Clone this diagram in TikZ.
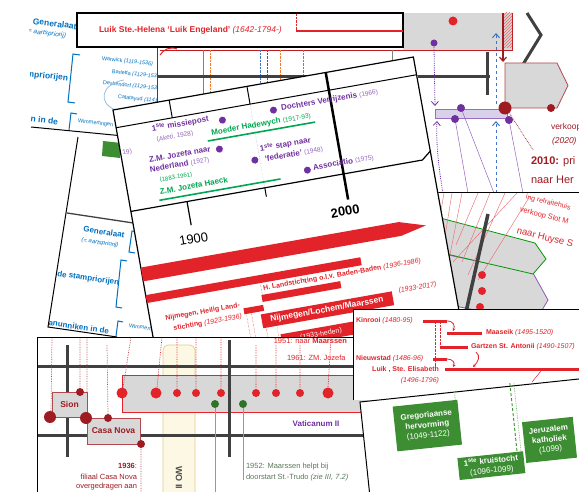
\documentclass[tikz,border=0pt]{standalone}
\usepackage{fontspec}
\setmainfont{Liberation Sans}
\usetikzlibrary{arrows.meta,patterns}
\definecolor{cred}{RGB}{226,35,42}
\definecolor{cdred}{RGB}{158,27,34}
\definecolor{cpur}{RGB}{112,48,160}
\definecolor{cpurl}{RGB}{150,100,190}
\definecolor{cpurfill}{RGB}{217,208,234}
\definecolor{cgrn}{RGB}{0,166,81}
\definecolor{cgbox}{RGB}{61,142,51}
\definecolor{cblue}{RGB}{0,112,192}
\definecolor{cbluel}{RGB}{68,114,196}
\definecolor{cbluec}{RGB}{150,190,230}
\definecolor{cgray}{RGB}{216,216,216}
\definecolor{cbar}{RGB}{64,64,64}
\definecolor{ccream}{RGB}{253,248,228}
\definecolor{ctan}{RGB}{222,205,140}
\definecolor{cgtext}{RGB}{90,120,90}
\definecolor{corange}{RGB}{237,125,49}
\newcommand{\myfs}[1]{\fontsize{#1}{#1}\selectfont}
\newcommand{\myfsb}[2]{\fontsize{#1}{#2}\selectfont}
\begin{document}
\begin{tikzpicture}[x=1pt,y=-1pt,
  every node/.style={inner sep=0pt,outer sep=0pt},
  barline/.style={cbar,line width=3pt},
  sarrow/.style={-{Straight Barb[length=4pt,width=7pt]}},
  bluetxt/.style={text=cblue,font=\myfs{8}\bfseries},
  bluesm/.style={text=cblue,font=\myfs{5.5}},
  purtxt/.style={anchor=west,text=cpur,font=\myfs{8}\bfseries},
  grntxt/.style={anchor=west,text=cgrn,font=\myfs{8}\bfseries},
  redtxt/.style={text=cred,font=\myfs{7}\bfseries},
  kintxt/.style={text=cred,font=\myfs{7}\bfseries},
  gboxtxt/.style={text=white,font=\myfsb{8}{10}\bfseries,align=center},
  pdot/.style={fill=cpur},
  rdot/.style={fill=cred},
  ddot/.style={fill=cdred},
  gdot/.style={fill=cgbox!80!black}]
\useasboundingbox (0,0) rectangle (579,492);
\clip (0,0) rectangle (579,492);

% ---------- card 2 (left middle, blue) ----------
\begin{scope}
\clip (78,137) -- (170,137) -- (170,345) -- (117,337) -- (48,327) -- cycle;
\fill[cgbox] (103,141) -- (121,143) -- (120,158) -- (102,156) -- cycle;
\draw[cbar,line width=1.3pt] (67,213) -- (140,224);
\node[bluetxt,rotate=-8] (c2gen) at (104,232) {Generalaat};
\node[text=cblue,font=\myfs{6}\itshape,rotate=-8] (c2aart) at (100,243) {(= aartspriorij)};
\draw[cblue,line width=1pt] (138,232) -- (132,231) -- (129,252) -- (135,253);
\node[bluetxt,anchor=east,rotate=-8] (c2stam) at (119,283) {de stampriorijen};
\draw[cblue,line width=1pt] (127,261) -- (121,260) -- (116,307) -- (122,308);
\node[bluetxt,anchor=east,rotate=-8] (c2kan) at (109,331) {kanunniken in de};
\draw[cblue,line width=1pt] (123,322) -- (118,321) -- (116,336);
\node[bluesm,anchor=west,rotate=-8] (c2wim) at (129,326) {Wimmertingen};
\end{scope}
\draw[line width=1pt] (78,137) -- (48,327) -- (117,337);

% ---------- card 1 (top left, blue) ----------
\begin{scope}
\clip (28,0) -- (200,0) -- (200,143.5) -- (31,127) -- cycle;
\node[bluetxt,anchor=west,font=\myfs{8.5}\bfseries,rotate=-7] (c1gen) at (33,21) {Generalaat};
\node[text=cblue,font=\myfs{6.5}\itshape,anchor=west,rotate=-7] (c1aart) at (26,31) {(= aartspriorij)};
\draw[cblue,line width=1pt] (80,55) -- (73,54) -- (68,102) -- (75,103);
\node[bluetxt,anchor=east,font=\myfs{8.5}\bfseries,rotate=-7] (c1stam) at (68,79) {stampriorijen};
\node[bluesm,anchor=west,rotate=-6] (w1) at (102,59) {Warwick {\itshape (1119-1536)}};
\node[bluesm,anchor=west,rotate=-6] (w2) at (112,72) {Barletta {\itshape (1129-1536)}};
\node[bluesm,anchor=west,rotate=-6] (w3) at (103,83) {Deskendorf {\itshape (1129-1536)}};
\node[bluesm,anchor=west,rotate=-6] (w4) at (118,97) {Calatayud {\itshape (1141-1536)}};
\draw[cbluec,line width=0.8pt] (124,80) .. controls (100,84) and (98,104) .. (116,110);
\draw[cblue,line width=1pt] (77,114) -- (71,113) -- (69,130);
\node[bluetxt,anchor=east,font=\myfs{8.5}\bfseries,rotate=-7] (c1kan) at (58,122) {kanunniken in de};
\node[bluesm,anchor=west,rotate=-7] (c1wim) at (78,121) {Wimmertingen};
\end{scope}
\draw[line width=1pt] (31,127) -- (140,137.6);

% ---------- card H (lower right, tilted) ----------
\begin{scope}
\clip (438,193) rectangle (579,309);
\fill[white] (438,193) rectangle (579,309);
\filldraw[fill=cgray,draw=cpur!80,line width=0.8pt] (425,250) -- (533,273) -- (548,300) -- (535,322) -- (425,300) -- cycle;
\filldraw[fill=cgray,draw=green!60!black,line width=0.8pt] (425,214) -- (535,243) -- (546,259) -- (533,274) -- (425,249) -- cycle;
\draw[cred!70,line width=0.4pt] (444,193) -- (436,240) (452,193) -- (442,255) (462,193) -- (448,265)
  (478,193) -- (456,245) (490,193) -- (462,262) (505,193) -- (468,275) (517,193) -- (453,262) (530,196) -- (478,280);
\draw[barline,line width=3.5pt] (488,214) -- (466,312);
\fill[rdot] (482,275) circle (4) (482,291) circle (4) (480,307) circle (4);
\node[anchor=west,rotate=-14,text=cred,font=\myfs{7}] (h1) at (526,197) {ing retraitehuis};
\node[anchor=west,rotate=-14,text=cred,font=\myfs{7.5}] (h2) at (520,210) {verkoop Slot M};
\node[anchor=west,rotate=-14,text=cred,font=\myfs{9.5}] (h3) at (517,231) {naar Huyse S};
\end{scope}

% ---------- top right panel ----------
\fill[white] (157,47) rectangle (579,193);
\fill[cgray] (403,13) rectangle (512,50);
\fill[pattern=north east lines,pattern color=cred!70] (504,13) rectangle (512,48);
\draw[cred!85!black,line width=0.6pt] (160,50) -- (512,50) -- (512,13);
\fill[rdot] (453,21) circle (4.5);
\draw[gray,line width=0.8pt] (203,50) -- (203,110);
\draw[corange,densely dotted] (210,50) -- (210,110);
\draw[cbluel,densely dotted] (260,50) -- (260,110);
\draw[green!60!black,densely dotted] (267,50) -- (267,110);
\draw[corange,densely dotted] (280,50) -- (280,110);
\draw[gray,densely dotted] (303,50) -- (303,110);
\draw[gray,line width=0.8pt] (392,50) -- (392,80);
\draw[cbar,line width=0.8pt] (157,47) -- (157,193);
\draw[barline] (157,77) -- (490,77);
\draw[barline] (487,52) -- (487,95);
\draw[barline] (527,13) -- (541,35) -- (522,66);
\draw[cdred,line width=1.2pt,sarrow] (503,13) -- (503,62);
\filldraw[fill=cgray,draw=cdred!80,line width=0.8pt] (505,63) -- (557,63) -- (568,85.5) -- (557,108) -- (505,108) -- cycle;
\node[fill=cpurfill,draw=cpur!70,line width=0.6pt,minimum width=72pt,minimum height=9pt] (pbox) at (471,113.5) {};
\draw[cpurl,line width=0.5pt] (455,119) -- (468,193) (461,108) -- (494,193) (509,120) -- (523,193);
\fill[pdot] (434,43) circle (3.5);
\draw[cpur,densely dotted,line width=0.8pt,sarrow] (434,47) -- (435,106);
\draw[cpur,densely dotted,line width=0.8pt,sarrow] (443,193) .. controls (438,165) and (436,140) .. (437,121);
\draw[cbluel,dashed,line width=1pt,sarrow] (496,104) -- (496,33);
\draw[cbluel,dashed,line width=1pt,sarrow] (496,193) -- (496,121);
\draw[cdred,densely dotted,line width=0.7pt] (508,111) -- (533,150);
\fill[pdot] (461,108) circle (4) (455,119) circle (4) (509,120) circle (4);
\fill[ddot] (505,108) circle (6.5) (551,108) circle (4);
\node[anchor=west,text=cdred,font=\myfs{8.5}] (verk) at (551,127) {verkoop};
\node[anchor=west,text=cdred,font=\myfs{8.5}\itshape] (verk2) at (552,141) {(2020)};
\node[anchor=west,text=cdred,font=\myfs{11}] (t2010) at (531,162) {\textbf{2010:} pri};
\node[anchor=west,text=cdred,font=\myfs{11}] (t2010b) at (531,180) {naar Her};
\draw[line width=1pt] (157,193) -- (579,193);
% Luik box
\fill[white] (77,13) rectangle (403,47);
\draw[line width=1.2pt] (77,13) rectangle (403,47);
\draw[cred,line width=1.8pt] (296,31) -- (403,31);
\draw[cred,densely dotted] (296,14) -- (296,31);
\node[anchor=west,text=cred,font=\myfs{8.5}\bfseries] (luik) at (99,30) {Luik Ste.-Helena ‘Luik Engeland’ {\mdseries\itshape (1642-1794-)}};
\draw[cred,line width=1pt] (177,49) .. controls (170,46) and (163,50) .. (160,55);

% ---------- central card ----------
\begin{scope}[shift={(113,110)},rotate=10,every node/.append style={transform shape}]
\fill[white] (0,0) rectangle (306,295);
\draw[line width=1.2pt] (0,295) -- (0,0) -- (305,0) -- (306,295);
\draw[line width=1pt] (0,18) -- (305,18);
\draw[line width=1pt] (57,0) -- (57,18) (136,0) -- (136,18);
\draw[gray!60,densely dotted] (136,18) -- (136,103);
\draw[line width=2.5pt] (216,0) -- (216,129);
\draw[line width=1.2pt] (0,103) -- (296,103) -- (306,95);
\draw[line width=1.2pt] (57,103) -- (57,127);
\draw[line width=1pt] (136,103) -- (136,112);
\node[font=\myfs{13}] (y1900) at (57,141) {1900};
\node[font=\myfs{13}\bfseries] (y2000) at (211,140) {2000};
% purple / green
\node[anchor=west,text=cpurl,font=\myfs{6.5}] (p19) at (2,44) {19)};
\node[purtxt] (miss) at (35,25.5) {1\textsuperscript{ste} missiepost};
\node[anchor=west,text=cpurl,font=\myfs{6.5}] (aketi) at (38,37) {(Aketi, 1928)};
\fill[pdot] (106,29) circle (3.5);
\node[grntxt] (moeder) at (93,40) {Moeder Hadewych {\mdseries\myfs{6.5}(1917-93)}};
\draw[cgrn,line width=1.6pt] (88,47) -- (197,47);
\fill[pdot] (158,28) circle (3.5);
\node[purtxt] (doch) at (166,28) {Dochters Verrijzenis {\mdseries\myfs{6.5}\color{cpurl}(1966)}};
\node[purtxt] (zm1) at (27,55) {Z.M. Jozefa naar};
\node[purtxt] (zm2) at (26,65.5) {Nederland {\mdseries\myfs{6.5}\color{cpurl}(1927)}};
\fill[pdot] (98,57) circle (3.5);
\node[anchor=west,text=cgrn,font=\myfs{6}] (hy) at (34,77.5) {(1883-1961)};
\node[grntxt] (haeck) at (32,88.5) {Z.M. Jozefa Haeck};
\draw[cgrn,line width=1.6pt] (30,97) -- (153,97);
\fill[pdot] (131,74) circle (3.5);
\node[purtxt] (stap) at (138,64) {1\textsuperscript{ste} stap naar};
\node[purtxt] (fed) at (141,75) {‘federatie’ {\mdseries\myfs{6.5}\color{cpurl}(1948)}};
\fill[pdot] (181,93) circle (3.5);
\node[purtxt] (assoc) at (187,92) {Associatio {\mdseries\myfs{6.5}\color{cpurl}(1975)}};
% red bars
\fill[cred] (0,160) -- (262,160) -- (288,168) -- (262,174) -- (0,174) -- cycle;
\fill[cred] (0,188) rectangle (218,196);
\node[anchor=west,redtxt] (hland) at (117,202) {H. Landstichting o.l.v. Baden-Baden {\mdseries\itshape (1936-1986)}};
\draw[cred,densely dotted] (115,198) -- (115,208);
\fill[cred] (114,208) rectangle (194,215);
\fill[cred] (94,218) rectangle (114,224);
\node[anchor=east,redtxt] (nh1) at (91,214.5) {Nijmegen, Heilig Land-};
\node[anchor=east,redtxt] (nh2) at (91,226) {stichting {\mdseries\itshape (1923-1936)}};
\fill[cred] (110,227) rectangle (243,241);
\node[text=white,font=\myfs{8.5}\bfseries] (nlm) at (176,234) {Nijmegen/Lochem/Maarssen};
\node[anchor=west,text=cred,font=\myfs{7}\itshape] (nlmy) at (250,228) {(1933-2017)};
\fill[cred] (126,250) rectangle (215,263);
\node[text=white,font=\myfs{7}] (hed) at (166,257) {(1933-heden)};
\draw[cred,densely dotted] (96,224) -- (96,285) (101,224) -- (101,285) (113,241) -- (113,285) (124,241) -- (124,285) (218,241) -- (218,285);
\end{scope}

% ---------- bottom card (Sion / Casa Nova) ----------
\begin{scope}
\clip (37,337) rectangle (420,492);
\fill[white] (37,337) rectangle (420,492);
\filldraw[fill=ccream,draw=ctan,line width=0.7pt,rounded corners=5pt] (163,345) rectangle (195,505);
\node[rotate=-90,font=\myfs{9}\bfseries,text=black!70] (wo) at (179,478) {WO II};
\filldraw[fill=cgray,draw=cred,line width=0.9pt] (122,375) rectangle (430,412);
\draw[barline] (37,366) -- (420,366) (37,435) -- (420,435);
\draw[barline] (67,345) -- (67,457) (229,340) -- (229,457);
\draw[cdred!80,densely dotted,line width=0.7pt] (52,337) -- (51,411) (80,337) -- (80,388) (87,337) -- (87,412) (107,345) -- (108,414)
  (131,337) -- (123,388) (141,444) -- (141,492);
\draw[cred,densely dotted,line width=0.7pt] (162,337) -- (157,388) (177,337) -- (177,389) (196,337) -- (196,389)
  (221,337) -- (221,389) (256,345) -- (256,389) (276,345) -- (276,389) (300,345) -- (300,389) (331,337) -- (328,388);
\draw[cgtext!70,line width=0.4pt] (215,404) -- (215,492) (243,404) -- (243,480);
\node[draw=cdred!80,fill=cgray,line width=0.8pt,minimum width=35pt,minimum height=25pt,text=cdred,font=\myfs{8.5}\bfseries] (sion) at (69.5,404.5) {Sion};
\node[draw=cdred!80,fill=cgray,line width=0.8pt,minimum width=53pt,minimum height=26pt,text=cdred,font=\myfs{8.5}\bfseries] (casa) at (113.5,431) {Casa Nova};
\fill[ddot] (50,417) circle (6) (80,392) circle (4) (86,418) circle (6) (108,418) circle (4) (141,444) circle (4);
\fill[rdot] (122,393) circle (5.5) (156,393) circle (5.5) (177,393) circle (4) (196,393) circle (4) (221,393) circle (4)
  (256,393) circle (4) (276,393) circle (4) (300,393) circle (4) (328,393) circle (5.5);
\fill[gdot] (215,404) circle (4) (243,404) circle (4);
\node[anchor=east,text=cdred,font=\myfs{7.5}\bfseries] (d36) at (137,466) {1936\mdseries:};
\node[anchor=east,text=cdred,font=\myfs{7.5}] (d36b) at (137,477) {filiaal Casa Nova};
\node[anchor=east,text=cdred,font=\myfs{7.5}] (d36c) at (137,487) {overgedragen aan};
\node[text=cpur,font=\myfs{8}\bfseries] (vat) at (316,424) {Vaticanum II};
\node[anchor=east,text=cred,font=\myfs{7.5}] (d51) at (347,341) {1951: naar \textbf{Maarssen}};
\node[anchor=west,text=cred,font=\myfs{7.5}] (d61) at (287,358) {1961: ZM. Jozefa};
\node[anchor=west,text=cgtext,font=\myfs{7.5}] (d52) at (246,467) {1952: Maarssen helpt bij};
\node[anchor=west,text=cgtext,font=\myfs{7.5}] (d52b) at (246,478) {doorstart St.-Trudo {\itshape (zie III, 7.2)}};
\end{scope}
\draw[line width=1pt] (37,492) -- (37,337) -- (420,337);

% ---------- Kinrooi card ----------
\fill[white] (353,309) rectangle (579,400);
\draw[line width=1pt] (353,400) -- (353,309) -- (579,309);
\draw[cred,densely dotted] (435,322) -- (435,368) (440,322) -- (440,346);
\node[anchor=west,kintxt] (kin) at (356,321) {Kinrooi {\mdseries\itshape (1480-95)}};
\fill[cred] (423,319.5) rectangle (447,322.5);
\draw[cred,line width=0.8pt,-{Stealth[length=3pt,width=3pt]}] (447,321) .. controls (454,321) and (455,326) .. (453,331);
\fill[cred] (447,331.5) rectangle (482,334.5);
\node[anchor=west,kintxt] (maas) at (486,333) {Maaseik {\mdseries\itshape (1495-1520)}};
\fill[cred] (440,345.5) rectangle (468,348.5);
\node[anchor=west,kintxt] (gart) at (471,347) {Gartzen St. Antonii {\mdseries\itshape (1490-1507)}};
\draw[cred,line width=0.8pt,-{Stealth[length=3pt,width=3pt]}] (476,352) .. controls (481,356) and (478,362) .. (473,367);
\node[anchor=west,kintxt] (nieuw) at (356,359) {Nieuwstad {\mdseries\itshape (1486-96)}};
\fill[cred] (433,357.5) rectangle (447,360.5);
\draw[cred,line width=0.8pt,-{Stealth[length=3pt,width=3pt]}] (447,359) .. controls (453,359) and (455,363) .. (453,367);
\fill[cred] (445,367.5) rectangle (579,371);
\node[anchor=east,kintxt] (luikse) at (439,370) {Luik , Ste. Elisabeth};
\node[anchor=east,text=cred,font=\myfs{7}\itshape] (luiky) at (439,381) {(1496-1796)};
\draw[cred,line width=0.5pt] (541,371) -- (532,382);

% ---------- green card ----------
\begin{scope}[shift={(360,402)},rotate=6,every node/.append style={transform shape}]
\fill[white] (0,0) rectangle (240,110);
\draw[line width=1pt] (0,110) -- (0,0) -- (240,0);
\draw[cgbox,densely dashed,line width=0.9pt] (151,-3) -- (151,66);
\draw[cgbox!70,densely dotted,line width=0.7pt] (155,-3) -- (155,66);
\draw[cgbox!70,densely dotted,line width=0.7pt] (95,0) -- (95,8);
\node[fill=cgbox,minimum width=65pt,minimum height=45pt,gboxtxt] (greg) at (64.5,30.5) {Gregoriaanse\\hervorming\\{\mdseries (1049-1122)}};
\node[fill=cgbox,minimum width=66pt,minimum height=22pt,gboxtxt] (krui) at (124,77) {1\textsuperscript{ste} kruistocht\\{\mdseries (1096-1099)}};
\node[fill=cgbox,minimum width=51pt,minimum height=41pt,gboxtxt] (jer) at (184.5,57.5) {Jeruzalem\\katholiek\\{\mdseries (1099)}};
\end{scope}
\end{tikzpicture}
\end{document}
